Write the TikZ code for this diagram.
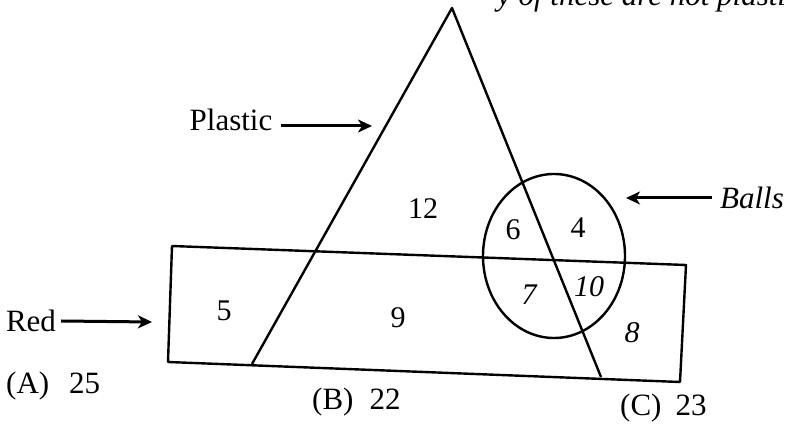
\documentclass[tikz,border=0pt]{standalone}
\usepackage{fontspec}
\setmainfont{Liberation Serif}
\usetikzlibrary{arrows.meta}
\begin{document}
\begin{tikzpicture}[x=1pt,y=-1pt,
  shape line/.style={line width=2.4pt,line join=round},
  lbl/.style={inner sep=0pt,font=\fontsize{31}{34}\selectfont},
  num/.style={inner sep=0pt,font=\fontsize{30}{33}\selectfont},
  inum/.style={inner sep=0pt,font=\fontsize{30}{33}\selectfont\itshape},
  arr/.style={line width=3pt,-{Stealth[length=14pt,width=13pt,inset=4pt]}}]
\useasboundingbox (0,0) rectangle (785,430);
\clip (0,0) rectangle (785,430);
% cut-off text at top
\node[anchor=base east,inner sep=0pt,font=\fontsize{31}{34}\selectfont\itshape] (toptext) at (800,6) {y of these are not plastic};
% coordinates
\coordinate (apex) at (452,8);
\coordinate (tl) at (252,364);
\coordinate (tr) at (601,377);
\coordinate (rtl) at (172,246);
\coordinate (rtr) at (686,265);
\coordinate (rbr) at (680,382);
\coordinate (rbl) at (168,362);
\coordinate (cc) at (554,256);
% shapes
\draw[shape line] (tl) -- (apex) -- (tr);
\draw[shape line] (rtl) -- (rtr) -- (rbr) -- (rbl) -- cycle;
\draw[shape line] (cc) ellipse [x radius=71, y radius=82];
% labels and arrows
\node[lbl] (plastic) at (231,120) {Plastic};
\coordinate (pa) at (372,126);
\draw[arr] (plastic.east |- pa) ++(8,0) coordinate (ps) -- (pa);
\node[lbl,font=\fontsize{31}{34}\selectfont\itshape] (balls) at (752,198) {Balls};
\coordinate (ba) at (626,198);
\draw[arr] ([xshift=-8pt]balls.west) -- (ba);
\node[lbl] (red) at (31,321) {Red};
\coordinate (ra) at (152,322);
\draw[arr] ([xshift=5pt]red.east) -- (ra);
% numbers
\node[num] (n12) at (423,209) {12};
\node[num] (n6) at (513,230) {6};
\node[num] (n4) at (578,228) {4};
\node[num] (n5) at (224,311) {5};
\node[num] (n9) at (398,318) {9};
\node[inum] (n7) at (529,295) {7};
\node[inum] (n10) at (589,287) {10};
\node[inum] (n8) at (632,333) {8};
% options
\node[lbl,anchor=west] (oa) at (6,386) {(A)\hspace{20pt}25};
\node[lbl,anchor=west] (ob) at (312,402) {(B)\hspace{16pt}22};
\node[lbl,anchor=west] (oc) at (620,408) {(C)\hspace{14pt}23};
\end{tikzpicture}
\end{document}
